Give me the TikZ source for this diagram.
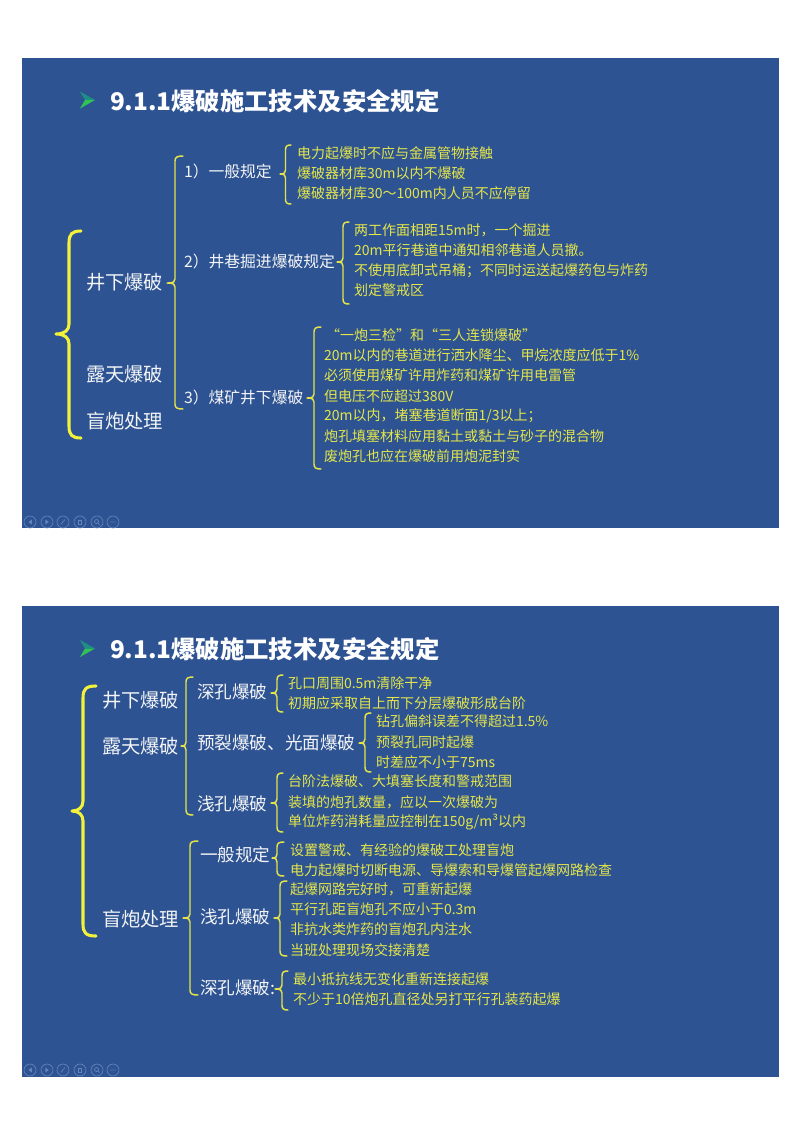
\documentclass[tikz,border=0pt]{standalone}
\usepackage{fontspec}
\setmainfont{Noto Sans CJK SC}
\definecolor{slidebg}{HTML}{2E5392}
\definecolor{txtyellow}{HTML}{E4E64A}
\definecolor{brkyellow}{HTML}{E4E44A}
\definecolor{bigyellow}{HTML}{F2F23A}
\definecolor{txtwhite}{HTML}{F2F4F6}
\definecolor{iconcol}{HTML}{6585BA}
\definecolor{bulltop}{HTML}{1F8F86}
\definecolor{bullbot}{HTML}{2FC455}
\newcommand{\pxfont}[1]{\fontsize{\fpeval{#1*0.75}pt}{\fpeval{#1*0.9}pt}\selectfont}
% tipx, tipy, linex, endx, top, bottom
\newcommand{\brk}[7][brace]{%
  \draw[#1] (#5,#6) .. controls ({#4+0.3*(#5-#4)},#6) and (#4,{#6+1}) .. (#4,{#6+5})
    -- (#4,{#3-4}) .. controls (#4,{#3-1.5}) and ({#4-1},#3) .. (#2,#3)
    .. controls ({#4-1},#3) and (#4,{#3+1.5}) .. (#4,{#3+4})
    -- (#4,{#7-5}) .. controls (#4,{#7-1}) and ({#4+0.3*(#5-#4)},#7) .. (#5,#7);}
\newcommand{\brkbig}[6]{%
  \draw[bigbrace] (#4,#5) .. controls ({#3+3},#5) and (#3,{#5+3}) .. (#3,{#5+12})
    -- (#3,{#2-10}) .. controls (#3,{#2-4}) and ({#3-4},#2) .. (#1,#2)
    .. controls ({#3-4},#2) and (#3,{#2+4}) .. (#3,{#2+10})
    -- (#3,{#6-12}) .. controls (#3,{#6-3}) and ({#3+3},#6) .. (#4,#6);}
\newcommand{\icons}[1]{%
  \foreach \ix in {30,47,63,80,97,113} {\draw[iconline] (\ix,#1) circle (6);}
  \fill[iconcol] (31.8,{#1-2.4}) -- (28.4,#1) -- (31.8,{#1+2.4}) -- cycle;
  \fill[iconcol] (45.4,{#1-2.4}) -- (48.8,#1) -- (45.4,{#1+2.4}) -- cycle;
  \draw[iconline] (60.8,{#1+2.4}) -- (65,{#1-2.4});
  \draw[iconline] (78,{#1-2}) rectangle (81.5,{#1+2});
  \draw[iconline] (96.5,{#1-0.5}) circle (2) (98,{#1+1}) -- (99.5,{#1+2.6});
  \fill[iconcol] (111,#1) circle (0.7) (113,#1) circle (0.7) (115,#1) circle (0.7);}
\newcommand{\bullmark}[1]{%
  \fill[bulltop] (80,{#1-8.5}) -- (95,#1) -- (85,#1) -- cycle;
  \fill[bullbot] (80,{#1+8.5}) -- (95,#1) -- (85,#1) -- cycle;}
\tikzset{
  brace/.style={draw=brkyellow,line width=1.1pt,line cap=round,line join=round},
  bigbrace/.style={draw=bigyellow,line width=2.3pt,line cap=round,line join=round},
  iconline/.style={draw=iconcol,line width=0.5pt},
  lbl/.style={anchor=west,inner sep=0pt,outer sep=0pt},
  titletxt/.style={lbl,text=white,font=\pxfont{24.35}\bfseries},
  mainlbl/.style={lbl,text=txtwhite,font=\pxfont{19.3}},
  sublbl/.style={lbl,text=txtwhite,font=\pxfont{15.8}},
  midlbl/.style={lbl,text=txtwhite,font=\pxfont{17.6}},
  item/.style={lbl,text=txtyellow,font=\pxfont{14}},
}
\begin{document}
\begin{tikzpicture}[x=0.75pt,y=-0.75pt]
\useasboundingbox (0,0) rectangle (800,1132);
\fill[white] (0,0) rectangle (800,1132);
\fill[slidebg] (22,58) rectangle (779,528);
\fill[slidebg] (22,606) rectangle (779,1077);
% ---- slide 1
\bullmark{100}
\node[titletxt] (t1) at (110,101) {9.1.1爆破施工技术及安全规定};
\brkbig{56}{334}{69}{81}{231}{438}
\node[mainlbl] (a1) at (86,282) {井下爆破};
\node[mainlbl] (a2) at (86,374) {露天爆破};
\node[mainlbl] (a3) at (86,421) {盲炮处理};
\brk{167}{283}{175}{183}{156}{409}
\node[sublbl] (b1) at (184,171) {1）一般规定};
\node[sublbl] (b2) at (184,261) {2）井巷掘进爆破规定};
\node[sublbl] (b3) at (184,397) {3）煤矿井下爆破};
\brk{280}{174}{285.5}{291}{145}{204}
\node[item] (c1) at (297,153) {电力起爆时不应与金属管物接触};
\node[item] (c2) at (297,173) {爆破器材库30m以内不爆破};
\node[item] (c3) at (297,193) {爆破器材库30～100m内人员不应停留};
\brk{337}{262}{343}{349}{222}{304}
\node[item] (d1) at (354,230) {两工作面相距15m时，一个掘进};
\node[item] (d2) at (354,250) {20m平行巷道中通知相邻巷道人员撤。};
\node[item] (d3) at (354,271) {不使用底卸式吊桶；不同时运送起爆药包与炸药};
\node[item] (d4) at (354,290) {划定警戒区};
\brk{307}{398}{314}{321}{327}{469}
\node[item] (e1) at (326,335) {“一炮三检”和“三人连锁爆破”};
\node[item] (e2) at (324,355) {20m以内的巷道进行洒水降尘、甲烷浓度应低于1\%};
\node[item] (e3) at (324,375) {必须使用煤矿许用炸药和煤矿许用电雷管};
\node[item] (e4) at (324,396) {但电压不应超过380V};
\node[item] (e5) at (324,416) {20m以内，堵塞巷道断面1/3以上；};
\node[item] (e6) at (324,436) {炮孔填塞材料应用黏土或黏土与砂子的混合物};
\node[item] (e7) at (324,456) {废炮孔也应在爆破前用炮泥封实};
\icons{522}
% ---- slide 2
\bullmark{648.5}
\node[titletxt] (t2) at (110,649) {9.1.1爆破施工技术及安全规定};
\brkbig{72}{811}{83}{96}{686}{936}
\node[mainlbl] (f1) at (102,700) {井下爆破};
\node[mainlbl] (f2) at (102,746) {露天爆破};
\node[mainlbl] (f3) at (102,919) {盲炮处理};
\brk{181}{746}{186}{193}{677}{815}
\node[midlbl] (g1) at (197,692) {深孔爆破};
\node[midlbl] (g2) at (197,743) {预裂爆破、光面爆破};
\node[midlbl] (g3) at (197,804) {浅孔爆破};
\brk{271}{693}{277}{283}{675}{712}
\node[item] (h1) at (288,683) {孔口周围0.5m清除干净};
\node[item] (h2) at (288,703) {初期应采取自上而下分层爆破形成台阶};
\brk{359}{743}{365}{371}{713}{772}
\node[item] (i1) at (376,721.5) {钻孔偏斜误差不得超过1.5\%};
\node[item] (i2) at (376,742) {预裂孔同时起爆};
\node[item] (i3) at (376,762) {时差应不小于75ms};
\brk{271}{803}{277}{283}{773}{832}
\node[item] (j1) at (288,781) {台阶法爆破、大填塞长度和警戒范围};
\node[item] (j2) at (288,802) {装填的炮孔数量，应以一次爆破为};
\node[item] (j3) at (288,822) {单位炸药消耗量应控制在150g/m³以内};
\brk{183}{918}{190}{198}{841}{995}
\node[midlbl] (k1) at (200,855) {一般规定};
\node[midlbl] (k2) at (200,917) {浅孔爆破};
\node[midlbl] (k3) at (200,988) {深孔爆破:};
\brk{272}{858}{277}{284}{842}{876}
\node[item] (l1) at (290,850) {设置警戒、有经验的爆破工处理盲炮};
\node[item] (l2) at (290,870) {电力起爆时切断电源、导爆索和导爆管起爆网路检查};
\brk{274}{918}{280}{287}{881}{956}
\node[item] (m1) at (290,889) {起爆网路完好时，可重新起爆};
\node[item] (m2) at (290,909) {平行孔距盲炮孔不应小于0.3m};
\node[item] (m3) at (290,929) {非抗水类炸药的盲炮孔内注水};
\node[item] (m4) at (290,950) {当班处理现场交接清楚};
\brk{275}{989}{282}{288}{971}{1010}
\node[item] (n1) at (293,979) {最小抵抗线无变化重新连接起爆};
\node[item] (n2) at (293,999) {不少于10倍炮孔直径处另打平行孔装药起爆};
\icons{1070}
\end{tikzpicture}
\end{document}
